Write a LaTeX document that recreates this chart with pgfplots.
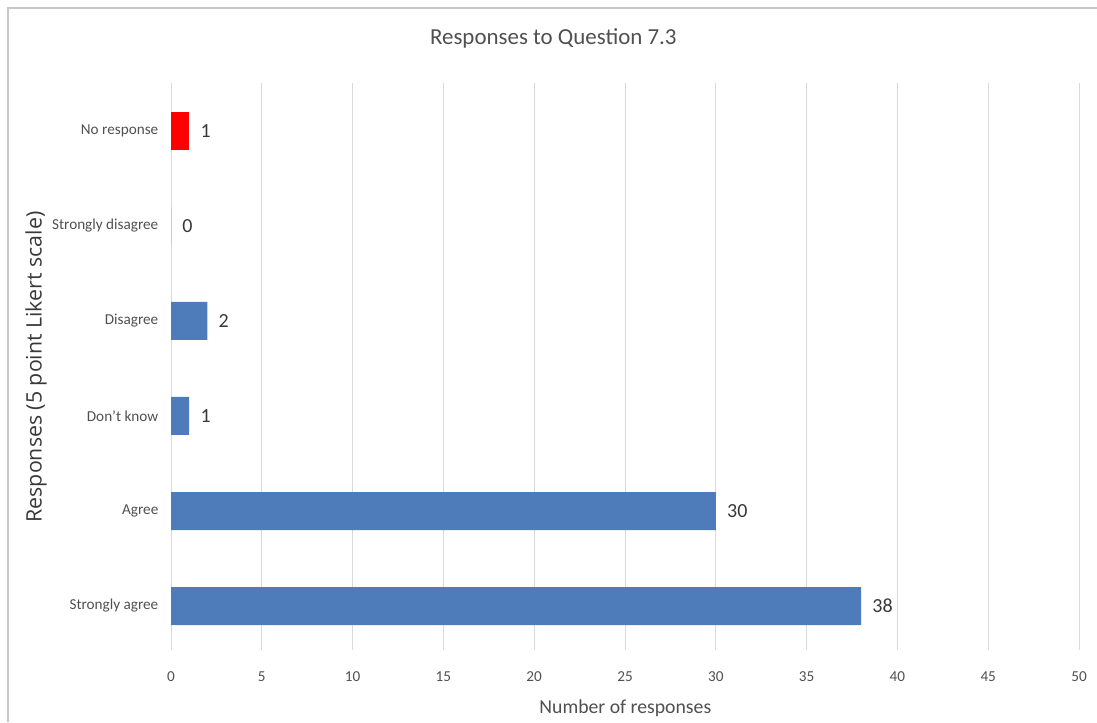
\documentclass[border=0pt]{standalone}
\usepackage{pgfplots}
\pgfplotsset{compat=1.18}
\usepackage{fontspec}
\setmainfont{Carlito}
\newfontfamily\labelfont{Open Sans}

\definecolor{barblue}{HTML}{4E7CBA}
\definecolor{barred}{HTML}{FF0000}
\definecolor{gridgray}{HTML}{D9D9D9}
\definecolor{ticktext}{HTML}{505050}
\definecolor{valtext}{HTML}{383838}
\definecolor{framegray}{HTML}{C8C8C8}

\begin{document}
\begin{tikzpicture}
\useasboundingbox (0,0) rectangle (822.75pt,541.5pt);
% chart frame (left and top edges)
\draw[framegray, line width=1pt] (6pt,0) -- (6pt,535.5pt) -- (822.75pt,535.5pt);

\begin{axis}[
  at={(128.25pt,54pt)}, anchor=south west,
  scale only axis,
  width=681pt, height=425.25pt,
  xbar, bar width=28.5pt, bar shift=0pt,
  xmin=0, xmax=50, ymin=-0.463, ymax=5.505,
  xtick={0,5,...,50},
  ytick={0,1,2,3,4,5},
  yticklabels={Strongly agree, Agree, Don't know, Disagree, Strongly disagree, No response},
  xmajorgrids, grid style={gridgray, line width=0.75pt},
  axis line style={draw=none},
  major tick length=0pt,
  tick style={draw=none},
  /pgf/number format/assume math mode=true,
  ticklabel style={font=\fontsize{11.4}{13}\selectfont, text=ticktext},
  yticklabel style={xshift=-6pt},
  xticklabel style={yshift=-13pt},
  nodes near coords,
  every node near coord/.append style={font=\fontsize{15}{18}\selectfont, text=valtext, xshift=5pt},
  point meta=x,
]
\addplot[fill=barblue, draw=none] coordinates {(38,0) (30,1) (1,2) (2,3) (0,4)};
\addplot[fill=barred, draw=none] coordinates {(1,5)};
\end{axis}

\node[text=ticktext, font=\fontsize{17.2}{20}\selectfont] at (415pt,513pt) {Responses to Question 7.3};
\node[text=ticktext, font=\fontsize{14.8}{17}\selectfont] at (469pt,10pt) {Number of responses};
\node[text=valtext, rotate=90, font=\labelfont\fontsize{16}{18}\selectfont] at (27pt,266.25pt) {Responses (5 point Likert scale)};
\end{tikzpicture}
\end{document}
